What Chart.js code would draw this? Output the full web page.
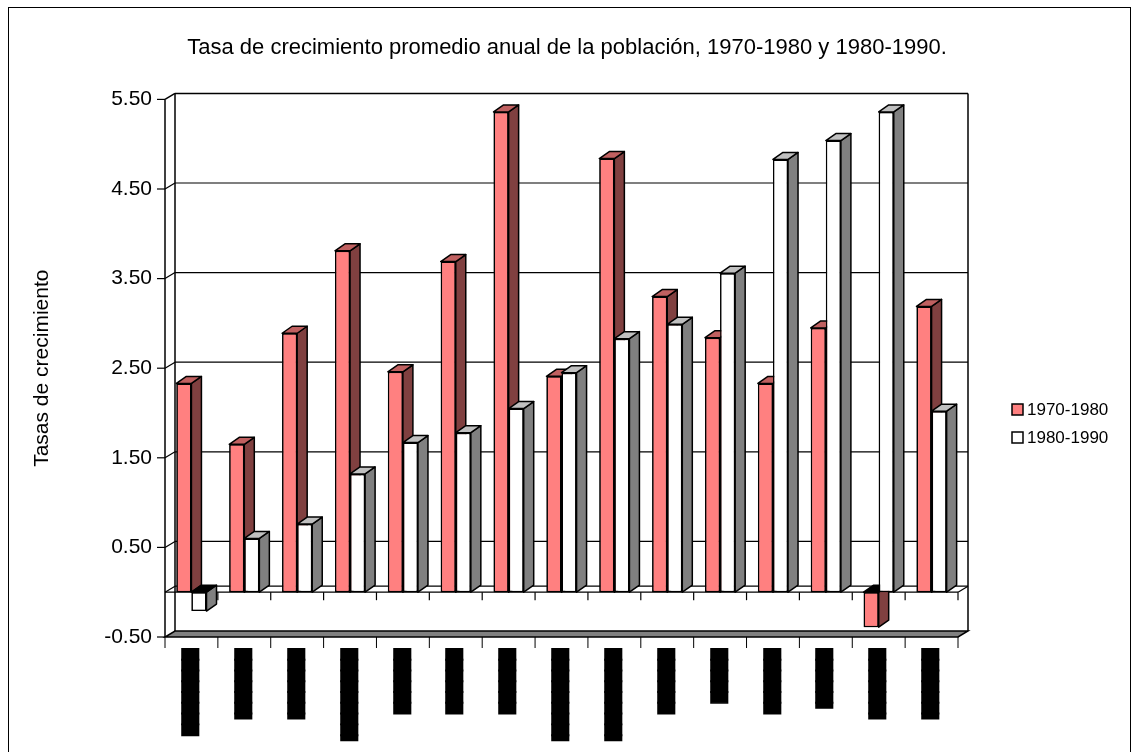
<!DOCTYPE html>
<html>
<head>
<meta charset="utf-8">
<script src="https://cdn.jsdelivr.net/npm/chart.js@4/dist/chart.umd.min.js"></script>
<style>
  html, body { margin: 0; padding: 0; background: #fff; }
  canvas { display: block; }
</style>
</head>
<body>
<canvas id="chart" width="1134" height="752"></canvas>
<script>
// category labels are illegible in the source (solid black blocks), kept as block text
const categories = [
  '████████', '▐██████', '▐██████', '▐████████', '██████',
  '██████', '██████', '▐████████', '▐████████', '██████',
  '█████', '██████', '▐█████', '▐██████', '▐██████'
];
const rate7080 = [2.33, 1.65, 2.89, 3.81, 2.46, 3.69, 5.36, 2.41, 4.84, 3.30, 2.84, 2.33, 2.95, -0.39, 3.19];
const rate8090 = [-0.21, 0.60, 0.76, 1.32, 1.67, 1.78, 2.05, 2.45, 2.83, 2.99, 3.56, 4.83, 5.04, 5.36, 2.02];
const yTicks = [-0.5, 0.5, 1.5, 2.5, 3.5, 4.5, 5.5];
const gridValues = [0, 0.5, 1.5, 2.5, 3.5, 4.5];

const FONT = 'Liberation Sans, Arial, sans-serif';
const WALL_DX = 10, WALL_DY = -6;   // depth of walls / floor
const BAR_DX = 10, BAR_DY = -7;     // depth of the bars

const faceColors = [
  { front: '#FF8080', side: '#804040', top: '#C06060' },
  { front: '#FFFFFF', side: '#808080', top: '#C0C0C0' }
];

function poly(ctx, pts, fill) {
  ctx.beginPath();
  ctx.moveTo(pts[0][0], pts[0][1]);
  for (let i = 1; i < pts.length; i++) ctx.lineTo(pts[i][0], pts[i][1]);
  ctx.closePath();
  if (fill) { ctx.fillStyle = fill; ctx.fill(); }
  ctx.stroke();
}

function line(ctx, x1, y1, x2, y2) {
  ctx.beginPath();
  ctx.moveTo(x1, y1);
  ctx.lineTo(x2, y2);
  ctx.stroke();
}

// walls, floor, gridlines, 3d faces, legend
const wallsPlugin = {
  id: 'walls',
  beforeDraw(chart) {
    const ctx = chart.ctx;
    ctx.save();
    ctx.strokeStyle = '#000';
    ctx.lineWidth = 1;
    ctx.strokeRect(8.5, 7.5, 1122, 800);
    ctx.restore();
  },
  beforeDatasetsDraw(chart) {
    const ctx = chart.ctx;
    const { left, right, top, bottom } = chart.chartArea;
    const yScale = chart.scales.y;
    const n = categories.length;
    const catW = (right - left) / n;
    ctx.save();
    ctx.strokeStyle = '#000';
    ctx.lineWidth = 1.5;

    // back wall outline
    line(ctx, left + WALL_DX, top + WALL_DY, right + WALL_DX, top + WALL_DY);
    line(ctx, right + WALL_DX, top + WALL_DY, right + WALL_DX, bottom + WALL_DY);
    line(ctx, left + WALL_DX, top + WALL_DY, left + WALL_DX, bottom + WALL_DY);
    line(ctx, left, top, left, bottom);
    line(ctx, left, top, left + WALL_DX, top + WALL_DY);

    // gridlines on back wall + side wall
    ctx.lineWidth = 1.2;
    gridValues.forEach(v => {
      const py = yScale.getPixelForValue(v);
      line(ctx, left + WALL_DX, py + WALL_DY, right + WALL_DX, py + WALL_DY);
      line(ctx, left, py, left + WALL_DX, py + WALL_DY);
    });
    yTicks.forEach(v => {
      const py = yScale.getPixelForValue(v);
      line(ctx, left - 8, py, left, py);
    });

    // zero plane
    const z = yScale.getPixelForValue(0);
    line(ctx, left, z, right, z);
    line(ctx, right, z, right + WALL_DX, z + WALL_DY);
    for (let i = 1; i <= n; i++) {
      const px = left + i * catW;
      line(ctx, px, z, px, z + 8);
    }

    // floor
    ctx.lineWidth = 1.5;
    poly(ctx, [[left, bottom], [right, bottom], [right + WALL_DX, bottom + WALL_DY], [left + WALL_DX, bottom + WALL_DY]], '#808080');
    ctx.lineWidth = 1;
    for (let i = 0; i <= n; i++) {
      const px = left + i * catW;
      line(ctx, px, bottom, px, bottom + 11);
    }
    ctx.restore();
  },
  afterDatasetsDraw(chart) {
    const ctx = chart.ctx;
    const metas = [chart.getDatasetMeta(0), chart.getDatasetMeta(1)];
    ctx.save();
    ctx.strokeStyle = '#000';
    ctx.lineWidth = 1.5;
    ctx.lineJoin = 'round';
    // redraw category by category, left to right, so the faces overlap correctly
    for (let i = 0; i < categories.length; i++) {
      metas.forEach((meta, d) => {
        const bar = meta.data[i];
        bar.draw(ctx);
        const { x, y, base, width } = bar.getProps(['x', 'y', 'base', 'width'], true);
        const l = x - width / 2, r = x + width / 2;
        const t = Math.min(y, base), b = Math.max(y, base);
        const neg = y > base;
        const c = faceColors[d];
        ctx.strokeStyle = '#000';
        ctx.lineWidth = 1.5;
        poly(ctx, [[r, t], [r + BAR_DX, t + BAR_DY], [r + BAR_DX, b + BAR_DY], [r, b]], c.side);
        poly(ctx, [[l, t], [l + BAR_DX, t + BAR_DY], [r + BAR_DX, t + BAR_DY], [r, t]], neg ? '#000' : c.top);
      });
    }
    ctx.restore();
  },
  afterDraw(chart) {
    const ctx = chart.ctx;
    ctx.save();
    ctx.font = '17px ' + FONT;
    ctx.textBaseline = 'middle';
    ctx.textAlign = 'left';
    ctx.lineWidth = 1.5;
    ctx.strokeStyle = '#000';
    chart.data.datasets.forEach((ds, i) => {
      const cy = 410 + i * 28;
      ctx.fillStyle = ds.backgroundColor;
      ctx.fillRect(1012, cy - 6, 11, 11);
      ctx.strokeRect(1012, cy - 6, 11, 11);
      ctx.fillStyle = '#000';
      ctx.fillText(ds.label, 1027, cy);
    });
    ctx.restore();
  }
};

new Chart(document.getElementById('chart'), {
  type: 'bar',
  data: {
    labels: categories,
    datasets: [
      {
        label: '1970-1980',
        data: rate7080,
        backgroundColor: '#FF8080',
        borderColor: '#000',
        borderWidth: 1.5,
        borderSkipped: false
      },
      {
        label: '1980-1990',
        data: rate8090,
        backgroundColor: '#FFFFFF',
        borderColor: '#000',
        borderWidth: 1.5,
        borderSkipped: false
      }
    ]
  },
  options: {
    responsive: false,
    animation: false,
    events: [],
    categoryPercentage: 0.57,
    barPercentage: 1.0,
    layout: { padding: 0 },
    plugins: {
      legend: { display: false },
      tooltip: { enabled: false },
      title: {
        display: true,
        text: 'Tasa de crecimiento promedio anual de la población, 1970-1980 y 1980-1990.',
        color: '#000',
        font: { family: FONT, size: 22, weight: 'normal', lineHeight: 1.2 },
        padding: { top: 35, bottom: 38 }
      }
    },
    scales: {
      x: {
        grid: { display: false, drawTicks: false },
        border: { display: false },
        ticks: {
          autoSkip: false,
          minRotation: 90,
          maxRotation: 90,
          padding: 12,
          color: '#000',
          textStrokeColor: '#000',
          textStrokeWidth: 1.5,
          font: { family: 'DejaVu Sans', size: 14 }
        },
        afterFit(scale) { scale.height = 115; }
      },
      y: {
        min: -0.5,
        max: 5.5,
        grid: { display: false, drawTicks: false },
        border: { display: false },
        afterBuildTicks(scale) { scale.ticks = yTicks.map(v => ({ value: v })); },
        ticks: {
          padding: 13,
          color: '#000',
          font: { family: FONT, size: 21 },
          callback: v => v.toFixed(2)
        },
        title: {
          display: true,
          text: 'Tasas de crecimiento',
          color: '#000',
          font: { family: FONT, size: 21 },
          padding: { top: 30, bottom: 0 }
        },
        afterFit(scale) { scale.width = 165; }
      },
      // empty right-hand space for the legend, keeps the title centred on the page
      legendSpace: {
        type: 'linear',
        position: 'right',
        display: true,
        grid: { display: false },
        border: { display: false },
        ticks: { display: false },
        afterFit(scale) { scale.width = 176; }
      }
    }
  },
  plugins: [wallsPlugin]
});
</script>
</body>
</html>
